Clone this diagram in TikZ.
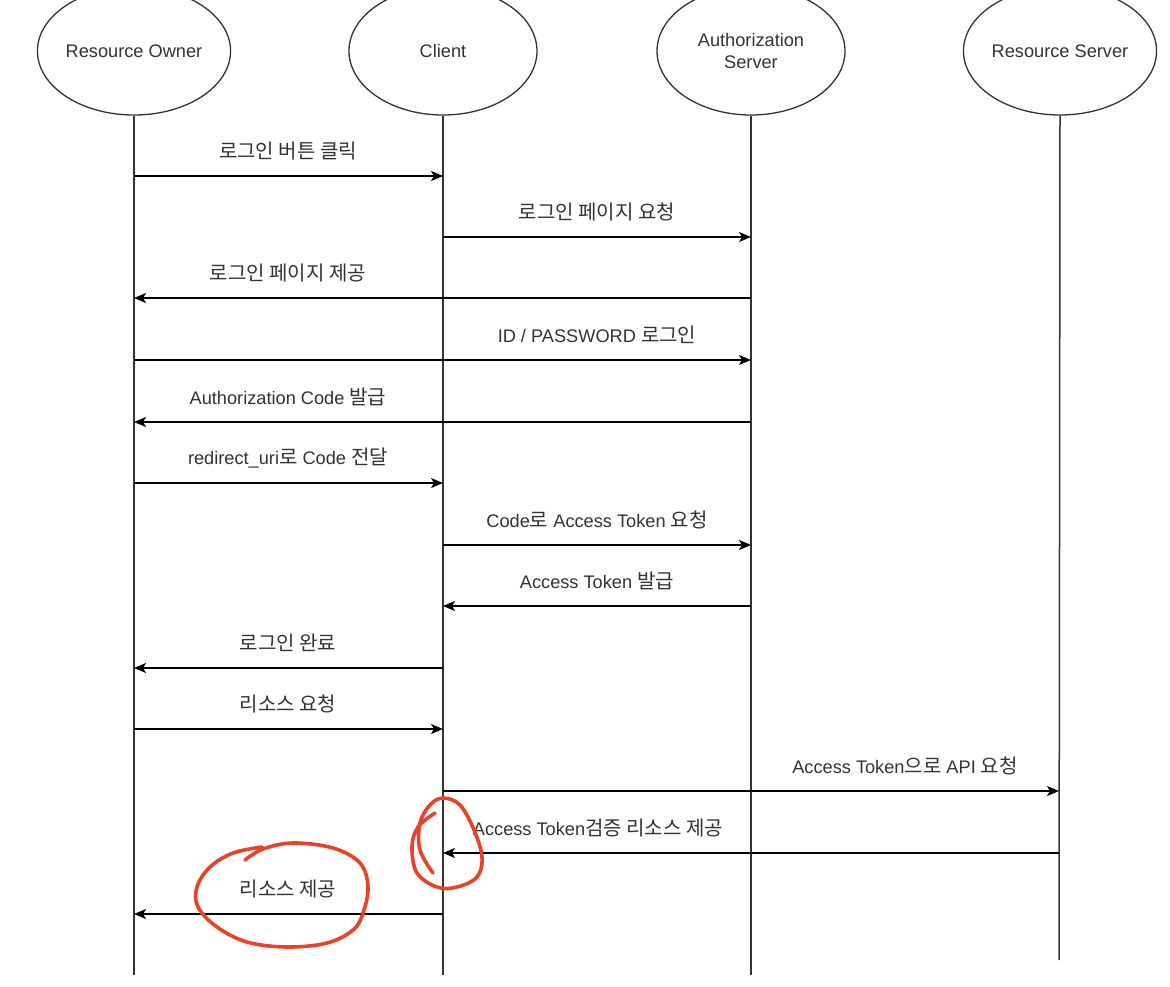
\documentclass[tikz,border=0pt]{standalone}
\usepackage{fontspec}
\setmainfont{Liberation Sans}
\newfontfamily\kr{Noto Sans CJK KR}[Scale=1.1]
\usetikzlibrary{shapes.geometric,arrows.meta}
\begin{document}
\begin{tikzpicture}[x=1pt,y=-1pt,
  actor/.style={draw=black!80,line width=1.3pt,ellipse,minimum width=188pt,minimum height=128pt,inner sep=0pt,align=center,text=black!80,font=\fontsize{18.2}{22}\selectfont},
  life/.style={draw=black!80,line width=1.5pt},
  msg/.style={draw=black,line width=1.5pt,-{Stealth[length=12pt,width=10pt,inset=3pt]}},
  lbl/.style={text=black!80,font=\fontsize{18.2}{22}\selectfont,inner sep=0pt},
  redmark/.style={draw={rgb,255:red,232;green,67;blue,42},line width=3.6pt,line cap=round,line join=round}]
\useasboundingbox[fill=white] (0,0) rectangle (1170,986);
% actors
\node[actor] (ro) at (134,51) {Resource Owner};
\node[actor] (cl) at (443,51) {Client};
\node[actor] (as) at (751,51) {Authorization\\Server};
\node[actor] (rs) at (1060,51) {Resource Server};
% lifeline ends
\coordinate (roE) at (134,975);
\coordinate (clE) at (443,975);
\coordinate (asE) at (751,975);
\coordinate (rsE) at (1059,960);
\draw[life] (ro.south) -- (roE);
\draw[life] (cl.south) -- (clE);
\draw[life] (as.south) -- (asE);
\draw[life] (rs.south) -- (rsE);
% message rows
\foreach \n/\y in {1/176,2/237,3/298,4/360,5/422,6/483,7/545,8/606,9/668,10/729,11/791,12/853,13/914}{
  \coordinate (ro\n) at (134,\y);
  \coordinate (cl\n) at (443,\y);
  \coordinate (as\n) at (751,\y);
  \coordinate (rs\n) at (1059,\y);
}
\draw[msg] (ro1) -- (cl1);
\draw[msg] (cl2) -- (as2);
\draw[msg] (as3) -- (ro3);
\draw[msg] (ro4) -- (as4);
\draw[msg] (as5) -- (ro5);
\draw[msg] (ro6) -- (cl6);
\draw[msg] (cl7) -- (as7);
\draw[msg] (as8) -- (cl8);
\draw[msg] (cl9) -- (ro9);
\draw[msg] (ro10) -- (cl10);
\draw[msg] (cl11) -- (rs11);
\draw[msg] (rs12) -- (cl12);
\draw[msg] (cl13) -- (ro13);
% labels
\node[lbl] (t1) at (288,151) {\kr 로그인 버튼 클릭};
\node[lbl] (t2) at (597,212) {\kr 로그인 페이지 요청};
\node[lbl] (t3) at (288,273) {\kr 로그인 페이지 제공};
\node[lbl] (t4) at (597,335) {ID / PASSWORD {\kr 로그인}};
\node[lbl] (t5) at (288,397) {Authorization Code {\kr 발급}};
\node[lbl] (t6) at (288,458) {redirect\_uri{\kr 로} Code {\kr 전달}};
\node[lbl] (t7) at (597,520) {Code{\kr 로} Access Token {\kr 요청}};
\node[lbl] (t8) at (597,581) {Access Token {\kr 발급}};
\node[lbl] (t9) at (288,643) {\kr 로그인 완료};
\node[lbl] (t10) at (288,704) {\kr 리소스 요청};
\node[lbl] (t11) at (905,766) {Access Token{\kr 으로} API {\kr 요청}};
\node[lbl] (t12) at (598,828) {Access Token{\kr 검증 리소스 제공}};
\node[lbl] (t13) at (288,889) {\kr 리소스 제공};
% red freehand marks
\draw[redmark] plot[smooth,tension=0.6] coordinates {(433,873) (420,850) (420,823) (430,805) (443,798) (460,805) (474,830) (482,857) (477,877) (457,887) (437,887) (417,873) (412,847) (418,827) (435,813)};
\draw[redmark] plot[smooth,tension=0.6] coordinates {(245,860) (263,849) (293,843) (333,848) (360,863) (368,887) (363,913) (353,930) (327,943) (287,947) (247,942) (217,927) (198,907) (197,887) (210,867) (233,853) (262,847)};
\end{tikzpicture}
\end{document}
